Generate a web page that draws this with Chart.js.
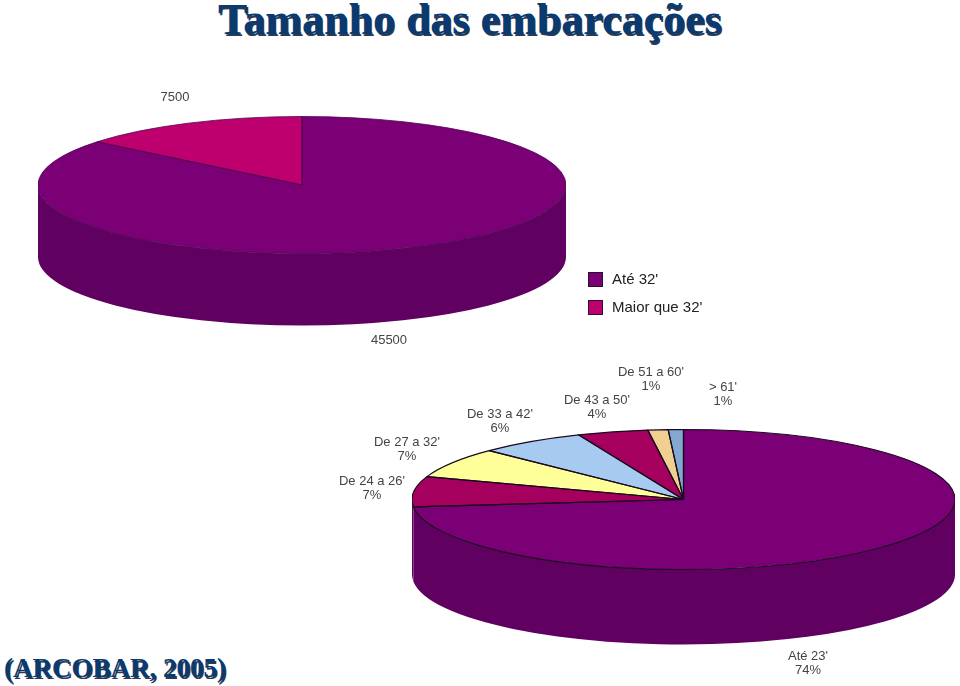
<!DOCTYPE html>
<html>
<head>
<meta charset="utf-8">
<style>
html, body { margin: 0; padding: 0; background: #fff; overflow: hidden; width: 960px; height: 686px; }
#page { position: relative; width: 960px; height: 686px; overflow: hidden; }
canvas { position: absolute; }
#title, #source {
	position: absolute; font-family: "Liberation Serif", serif; font-weight: bold;
	color: #0a3a72; text-shadow: 1.5px 1.5px 0 #2a3a50; white-space: nowrap;
}
#title { left: 218px; top: -6px; font-size: 44px; }
#source { left: 4px; top: 653px; font-size: 27px; }
.lbl {
	position: absolute; font-family: "Liberation Sans", sans-serif; font-size: 13px; line-height: 14px;
	color: #444; text-align: center; transform: translateX(-50%); white-space: nowrap;
}
.swatch { position: absolute; width: 13px; height: 13px; border: 1px solid #2a1030; }
.legendText { position: absolute; font-family: "Liberation Sans", sans-serif; font-size: 15px; color: #222; white-space: nowrap; }
</style>
</head>
<body>
<div id="page">
	<div id="title">Tamanho das embarcações</div>
	<canvas id="pieTop" width="528" height="528" style="left:38px;top:-79px"></canvas>
	<canvas id="pieBottom" width="543" height="543" style="left:412px;top:228px"></canvas>
	<div id="source">(ARCOBAR, 2005)</div>
</div>
<script src="https://cdn.jsdelivr.net/npm/chart.js@4"></script>
<script>
'use strict'

//first pie
const sizeLabels = ["Até 32'", "Maior que 32'"];
const sizeValues = [45500, 7500];
const sizeColors = ['#7b0076', '#be006e'];
const sizeWallColors = ['#600060', '#960058'];

//second pie
const classLabels = ["Até 23'", "De 24 a 26'", "De 27 a 32'", "De 33 a 42'", "De 43 a 50'", "De 51 a 60'", "> 61'"];
const classPercents = ['74%', '7%', '7%', '6%', '4%', '1%', '1%'];
const classValues = [73.3, 7, 7, 6.4, 4.2, 1.2, 0.9];
const classColors = ['#7b0076', '#a6005f', '#ffff99', '#a6caf0', '#a6005f', '#f0d090', '#84a9d0'];
const classWallColors = ['#600060', '#600060', '#c8c870', '#80a0c0', '#80004a', '#c0a070', '#6080a0'];

//label places, center x and top y
const sizeLabelPos = [[389, 333], [175, 90]];
const classLabelPos = [[808, 649], [372, 474], [407, 435], [500, 407], [597, 393], [651, 365], [723, 380]];

//draws the wall, then flattens the pie into an ellipse
const flatPie = {
	id: 'flatPie',
	beforeDatasetsDraw(chart, args, opts){
		const ctx = chart.ctx;
		const arcs = chart.getDatasetMeta(0).data;
		const k = opts.flat;
		const wall = chart.data.datasets[0].wallColors;

		arcs.forEach((arc, i) => {
			//only the front half, 0 ~ pi, has a wall
			const start = Math.max(arc.startAngle, 0);
			const end = Math.min(arc.endAngle, Math.PI);
			if(end <= start) return;
			const rx = arc.outerRadius;
			const ry = rx * k;
			ctx.save();
			ctx.fillStyle = wall[i];
			ctx.beginPath();
			ctx.ellipse(arc.x, arc.y, rx, ry, 0, start, end);
			ctx.ellipse(arc.x, arc.y + opts.depth, rx, ry, 0, end, start, true);
			ctx.closePath();
			ctx.fill();
			ctx.restore();
		});

		ctx.save();
		ctx.translate(arcs[0].x, arcs[0].y);
		ctx.scale(1, k);
		ctx.translate(-arcs[0].x, -arcs[0].y);
	},
	afterDatasetsDraw(chart, args, opts){
		const ctx = chart.ctx;
		const arcs = chart.getDatasetMeta(0).data;
		ctx.restore();

		//outlines, stroked after the restore so the line stays even
		ctx.save();
		ctx.strokeStyle = opts.line;
		ctx.lineWidth = opts.lineWidth;
		ctx.lineJoin = 'round';
		arcs.forEach((arc) => {
			ctx.beginPath();
			ctx.moveTo(arc.x, arc.y);
			ctx.ellipse(arc.x, arc.y, arc.outerRadius, arc.outerRadius * opts.flat, 0, arc.startAngle, arc.endAngle);
			ctx.closePath();
			ctx.stroke();
		});
		ctx.restore();
	}
};

function makePie(id, values, colors, walls, flat, depth, line, lineWidth){
	return new Chart(document.getElementById(id), {
		type: 'pie',
		data: {
			datasets: [{
				data: values,
				backgroundColor: colors,
				wallColors: walls,
				borderWidth: 0
			}]
		},
		options: {
			responsive: false,
			animation: false,
			events: [],
			layout: { padding: 0 },
			plugins: {
				legend: { display: false },
				tooltip: { enabled: false },
				flatPie: { flat: flat, depth: depth, line: line, lineWidth: lineWidth }
			}
		},
		plugins: [flatPie]
	});
}

makePie('pieTop', sizeValues, sizeColors, sizeWallColors, 68.5 / 264, 72, '#4c0050', 0.8);
makePie('pieBottom', classValues, classColors, classWallColors, 70 / 271.5, 75, '#1a0a20', 1.2);

const page = document.getElementById('page');

function addLabel(text, pos){
	const el = document.createElement('div');
	el.className = 'lbl';
	el.style.left = pos[0] + 'px';
	el.style.top = pos[1] + 'px';
	el.innerHTML = text;
	page.appendChild(el);
}

sizeValues.forEach((v, i) => addLabel(String(v), sizeLabelPos[i]));
classLabels.forEach((name, i) => {
	addLabel(name.replace('>', '&gt;') + '<br>' + classPercents[i], classLabelPos[i]);
});

//legend
const legendTops = [272, 300];
sizeLabels.forEach((name, i) => {
	const box = document.createElement('div');
	box.className = 'swatch';
	box.style.left = '588px';
	box.style.top = legendTops[i] + 'px';
	box.style.background = sizeColors[i];
	page.appendChild(box);
	const txt = document.createElement('div');
	txt.className = 'legendText';
	txt.style.left = '612px';
	txt.style.top = (legendTops[i] - 2) + 'px';
	txt.textContent = name;
	page.appendChild(txt);
});
</script>
</body>
</html>
